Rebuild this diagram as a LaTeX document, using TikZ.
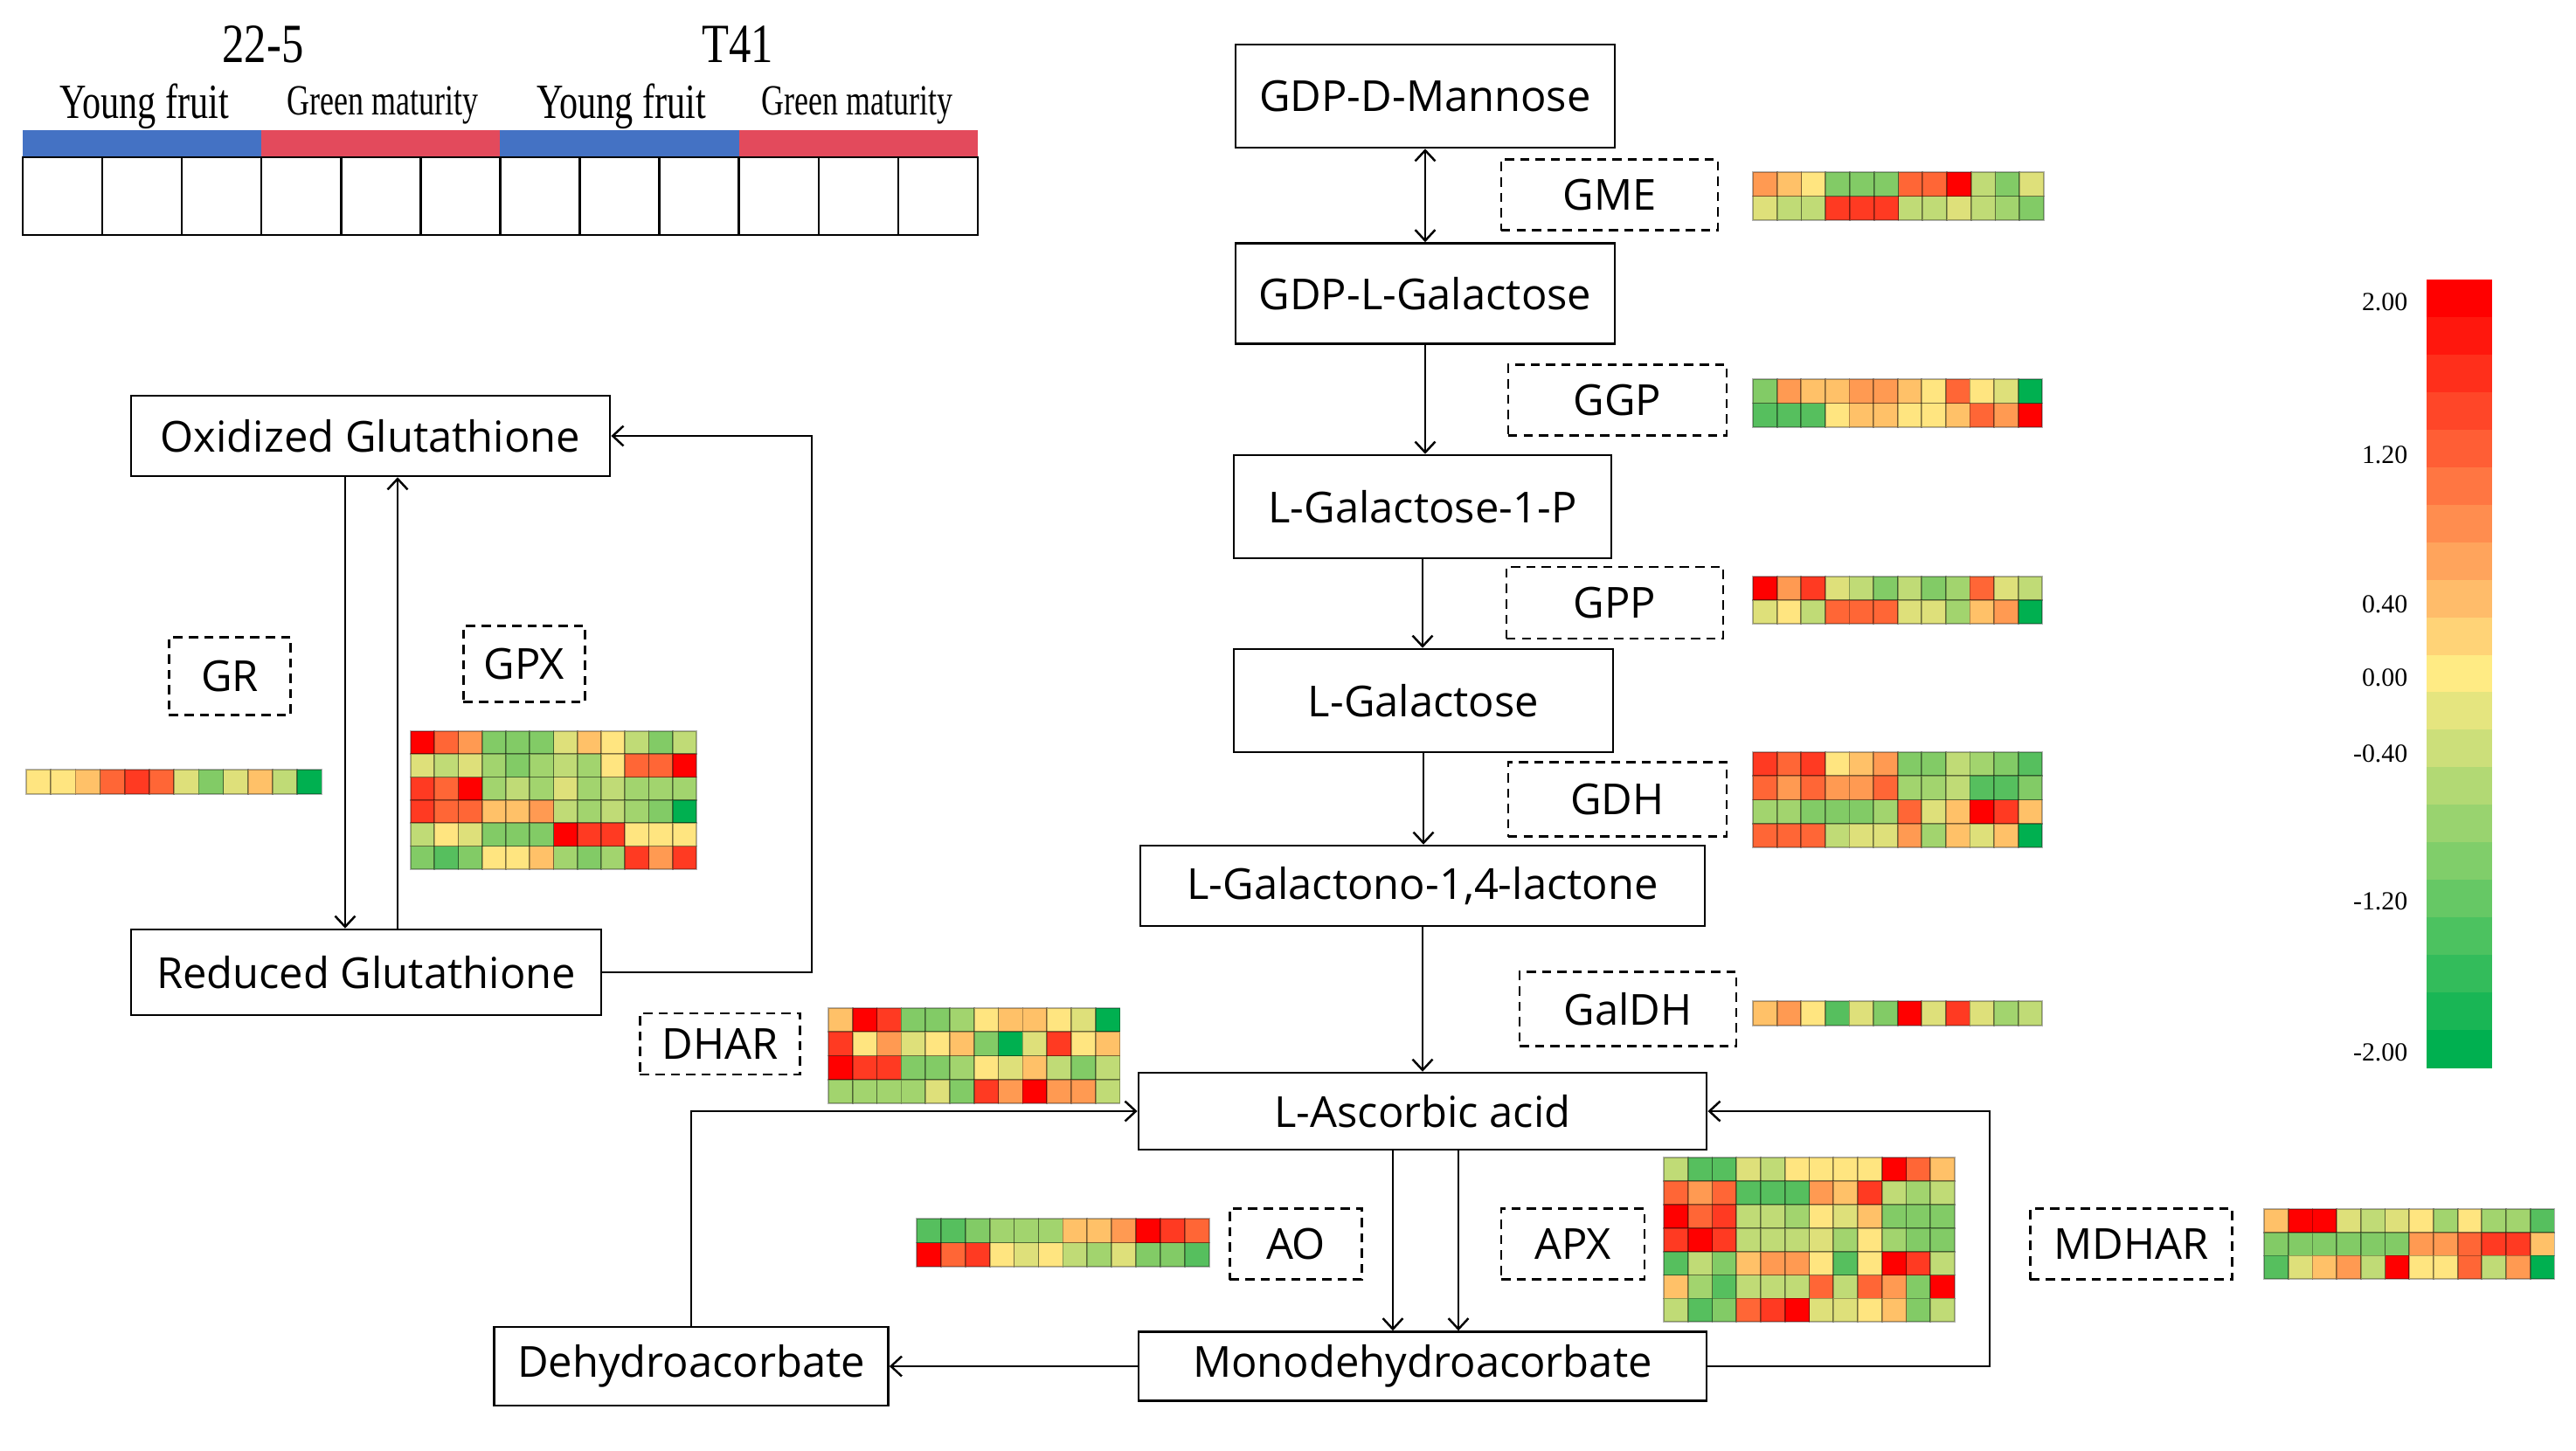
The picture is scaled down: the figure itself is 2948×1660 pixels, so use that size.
\documentclass[tikz,border=0pt]{standalone}
\usepackage{fontspec}
\usepackage{graphicx}
\setmainfont{Open Sans}
\newfontfamily\serifhdr{Liberation Serif}
\usetikzlibrary{arrows.meta}
\definecolor{hR}{HTML}{FF0000}
\definecolor{hr}{HTML}{FF3A22}
\definecolor{hO}{HTML}{FF6636}
\definecolor{ho}{HTML}{FF9A52}
\definecolor{ha}{HTML}{FFC168}
\definecolor{hy}{HTML}{FFE580}
\definecolor{hY}{HTML}{DEE07A}
\definecolor{hl}{HTML}{C0DB76}
\definecolor{hg}{HTML}{A2D46E}
\definecolor{hG}{HTML}{82CB66}
\definecolor{hd}{HTML}{56BF5E}
\definecolor{hD}{HTML}{00B050}
\definecolor{cbRed}{HTML}{FF0000}
\definecolor{cbYel}{HTML}{FFEB84}
\definecolor{cbGrn}{HTML}{00B050}
\definecolor{barBlue}{HTML}{4472C4}
\definecolor{barRed}{HTML}{E34A5C}
\newcommand{\heatmap}[5]{%
  \foreach \hrow [count=\hj] in {#5} {%
    \foreach \hc [count=\hi] in \hrow {%
      \draw[heatcell, fill=h\hc] ({#1+(\hi-1)*#3},{#2+(\hj-1)*#4}) rectangle ++(#3,#4);
    }%
  }%
}
\tikzset{
  pbox/.style={draw, line width=0.7pt, inner sep=0pt, font=\fontsize{13.9}{16}\selectfont},
  ebox/.style={draw, dashed, dash pattern=on 3pt off 2pt, line width=0.7pt, inner sep=0pt, font=\fontsize{13.9}{16}\selectfont},
  arr/.style={-{Straight Barb[length=3.5pt,width=6.5pt]}, line width=0.7pt},
  darr/.style={{Straight Barb[length=3.5pt,width=6.5pt]}-{Straight Barb[length=3.5pt,width=6.5pt]}, line width=0.7pt},
  heatcell/.style={draw=black, draw opacity=0.3, line width=0.5pt},
  hdrbig/.style={font=\serifhdr\fontsize{18}{20}\selectfont},
  hdrmid/.style={font=\serifhdr\fontsize{16}{18}\selectfont},
  hdrsm/.style={font=\serifhdr\fontsize{14}{16}\selectfont},
  cblab/.style={font=\serifhdr\fontsize{8.5}{10}\selectfont, anchor=east, inner sep=0pt}
}
\begin{document}
\begin{tikzpicture}[x=0.01cm, y=-0.01cm]
\useasboundingbox (0,0) rectangle (2948,1660);
\fill[white] (0,0) rectangle (2948,1660);

% ---------- header ----------
\node[hdrbig] (h225) at (301,51) {\scalebox{0.8}[1]{22-5}};
\node[hdrbig] (ht41) at (844,51) {\scalebox{0.8}[1]{T41}};
\node[hdrmid] (hy1) at (165,122) {\scalebox{0.75}[1]{Young fruit}};
\node[hdrsm] (hg1) at (438,121) {\scalebox{0.73}[1]{Green maturity}};
\node[hdrmid] (hy2) at (711,122) {\scalebox{0.75}[1]{Young fruit}};
\node[hdrsm] (hg2) at (981,121) {\scalebox{0.73}[1]{Green maturity}};
\fill[barBlue] (26,149) rectangle (299,180);
\fill[barRed] (299,149) rectangle (572,180);
\fill[barBlue] (572,149) rectangle (846,180);
\fill[barRed] (846,149) rectangle (1119,180);
\foreach \k in {0,...,11} {
  \draw[line width=0.7pt] ({26+\k*91.08},180) rectangle ++(91.08,89);
}

% ---------- right pathway ----------
\node[pbox, minimum width=4.34cm, minimum height=1.18cm] (mann) at (1631,110) {GDP-D-Mannose};
\node[pbox, minimum width=4.34cm, minimum height=1.15cm] (galp) at (1631,336) {GDP-L-Galactose};
\node[pbox, minimum width=4.32cm, minimum height=1.18cm] (gal1p) at (1628,580) {L-Galactose-1-P};
\node[pbox, minimum width=4.34cm, minimum height=1.18cm] (gal) at (1629,802) {L-Galactose};
\node[pbox, minimum width=6.46cm, minimum height=0.92cm] (lac) at (1628,1014) {L-Galactono-1,4-lactone};
\node[pbox, minimum width=6.50cm, minimum height=0.88cm] (asa) at (1628,1272) {L-Ascorbic acid};
\node[pbox, minimum width=6.50cm, minimum height=0.79cm] (mdha) at (1628,1564) {Monodehydroacorbate};
\node[pbox, minimum width=4.51cm, minimum height=0.90cm] (dha) at (791,1564) {Dehydroacorbate};
\node[pbox, minimum width=5.48cm, minimum height=0.92cm] (oxg) at (424,499) {Oxidized Glutathione};
\node[pbox, minimum width=5.38cm, minimum height=0.98cm] (redg) at (419,1113) {Reduced Glutathione};

\node[ebox, minimum width=2.48cm, minimum height=0.81cm] (gme) at (1842,223) {GME};
\node[ebox, minimum width=2.50cm, minimum height=0.81cm] (ggp) at (1851,458) {GGP};
\node[ebox, minimum width=2.48cm, minimum height=0.82cm] (gpp) at (1848,690) {GPP};
\node[ebox, minimum width=2.50cm, minimum height=0.85cm] (gdh) at (1851,915) {GDH};
\node[ebox, minimum width=2.48cm, minimum height=0.85cm] (galdh) at (1863,1155) {GalDH};
\node[ebox, minimum width=1.51cm, minimum height=0.81cm] (ao) at (1483,1424) {AO};
\node[ebox, minimum width=1.64cm, minimum height=0.81cm] (apx) at (1800,1424) {APX};
\node[ebox, minimum width=2.31cm, minimum height=0.81cm] (mdhar) at (2439,1424) {MDHAR};
\node[ebox, minimum width=1.83cm, minimum height=0.70cm] (dhar) at (824,1195) {DHAR};
\node[ebox, minimum width=1.39cm, minimum height=0.89cm] (gr) at (263,774) {GR};
\node[ebox, minimum width=1.39cm, minimum height=0.87cm] (gpx) at (600,760) {GPX};

% ---------- connectors ----------
\draw[darr] (mann.south) -- (galp.north);
\draw[arr] (galp.south) -- (galp.south |- gal1p.north);
\draw[arr] (gal1p.south) -- (gal1p.south |- gal.north);
\draw[arr] (gal.south) -- (gal.south |- lac.north);
\draw[arr] (lac.south) -- (lac.south |- asa.north);
\draw[arr] ([xshift=-0.34cm]asa.south) -- ([xshift=-0.34cm]asa.south |- mdha.north);
\draw[arr] ([xshift=0.41cm]asa.south) -- ([xshift=0.41cm]asa.south |- mdha.north);
\draw[arr] (mdha.west) -- (dha.east);
\coordinate (c1) at (2277,1564);
\draw[arr] (mdha.east) -- (c1) |- (asa.east);
\draw[arr] (dha.north) |- (asa.west);
\coordinate (c2) at (929,1113);
\draw[arr] (redg.east) -- (c2) |- (oxg.east);
\draw[arr] ([xshift=-0.29cm]oxg.south) -- ([xshift=-0.29cm]oxg.south |- redg.north);
\draw[arr] ([xshift=0.36cm]redg.north) -- ([xshift=0.36cm]redg.north |- oxg.south);

% ---------- heatmaps ----------
\heatmap{2006}{197}{27.75}{27.5}{{o,a,y,G,G,G,O,O,R,l,G,Y},{Y,l,l,r,r,r,l,l,Y,l,g,G}}
\heatmap{2006}{434}{27.6}{27.5}{{G,o,a,a,o,o,a,y,O,y,Y,D},{d,d,d,y,a,a,y,y,a,O,o,R}}
\heatmap{2006}{660}{27.6}{27}{{R,o,r,Y,l,G,l,G,g,O,Y,l},{Y,y,l,O,O,O,Y,Y,g,a,o,D}}
\heatmap{2006}{861}{27.6}{27.25}{{r,O,r,y,a,o,G,G,l,g,G,d},{O,o,O,o,o,O,g,g,l,d,d,G},{g,g,G,G,G,g,O,Y,a,R,r,a},{O,O,O,l,Y,Y,o,g,a,Y,a,D}}
\heatmap{2006}{1146}{27.6}{28}{{a,o,y,d,Y,G,R,Y,r,Y,g,l}}
\heatmap{30}{881}{28.2}{28}{{y,y,a,O,r,O,Y,G,Y,a,l,D}}
\heatmap{470}{837}{27.25}{26.3}{{R,O,o,G,G,G,Y,a,y,l,G,l},{Y,l,Y,g,G,g,l,g,y,O,O,R},{r,O,R,g,l,g,Y,g,l,g,g,g},{r,O,O,a,a,o,l,g,l,g,G,D},{l,y,Y,G,G,G,R,r,r,y,y,y},{G,d,G,y,y,a,g,G,g,r,o,r}}
\heatmap{948}{1154}{27.8}{27.25}{{a,R,r,G,G,g,y,a,a,y,Y,D},{r,y,o,Y,y,a,G,D,Y,r,y,a},{R,r,r,G,G,g,y,Y,a,l,G,l},{g,g,g,g,Y,G,r,o,R,o,o,l}}
\heatmap{1049}{1395}{27.9}{27.5}{{d,d,G,g,g,g,a,a,o,R,r,O},{R,O,r,y,Y,y,l,g,Y,G,G,d}}
\heatmap{1904}{1325}{27.75}{26.9}{{l,d,d,Y,l,y,y,y,y,R,O,a},{O,o,O,d,d,d,o,a,r,l,g,l},{R,O,r,l,l,g,y,Y,a,G,G,G},{r,R,r,l,l,l,Y,g,y,g,G,G},{d,l,G,a,o,o,y,d,y,R,r,l},{a,g,d,l,l,l,O,l,O,o,G,R},{l,d,G,O,r,R,Y,Y,y,a,G,l}}
\heatmap{2591}{1384}{27.7}{26.7}{{a,R,R,Y,l,Y,y,g,y,g,g,d},{G,G,G,G,G,G,o,o,O,r,r,a},{d,Y,a,o,l,R,y,y,O,l,o,D}}

% ---------- colour bar ----------
\foreach \k in {0,...,20} {
  \pgfmathsetmacro{\vv}{2.1-(\k+0.5)*0.2}
  \pgfmathsetmacro{\pp}{min(abs(\vv)/2,1)*100}
  \pgfmathparse{\vv>=0 ? 1 : 0}
  \ifnum\pgfmathresult=1
    \fill[cbRed!\pp!cbYel] (2777,{320+\k*42.95}) rectangle ++(75,43.5);
  \else
    \fill[cbGrn!\pp!cbYel] (2777,{320+\k*42.95}) rectangle ++(75,43.5);
  \fi
}
\node[cblab] (l1) at (2756,346) {2.00};
\node[cblab] (l2) at (2756,521) {1.20};
\node[cblab] (l3) at (2756,692) {0.40};
\node[cblab] (l4) at (2756,776) {0.00};
\node[cblab] (l5) at (2756,863) {-0.40};
\node[cblab] (l6) at (2756,1032) {-1.20};
\node[cblab] (l7) at (2756,1205) {-2.00};
\end{tikzpicture}
\end{document}
